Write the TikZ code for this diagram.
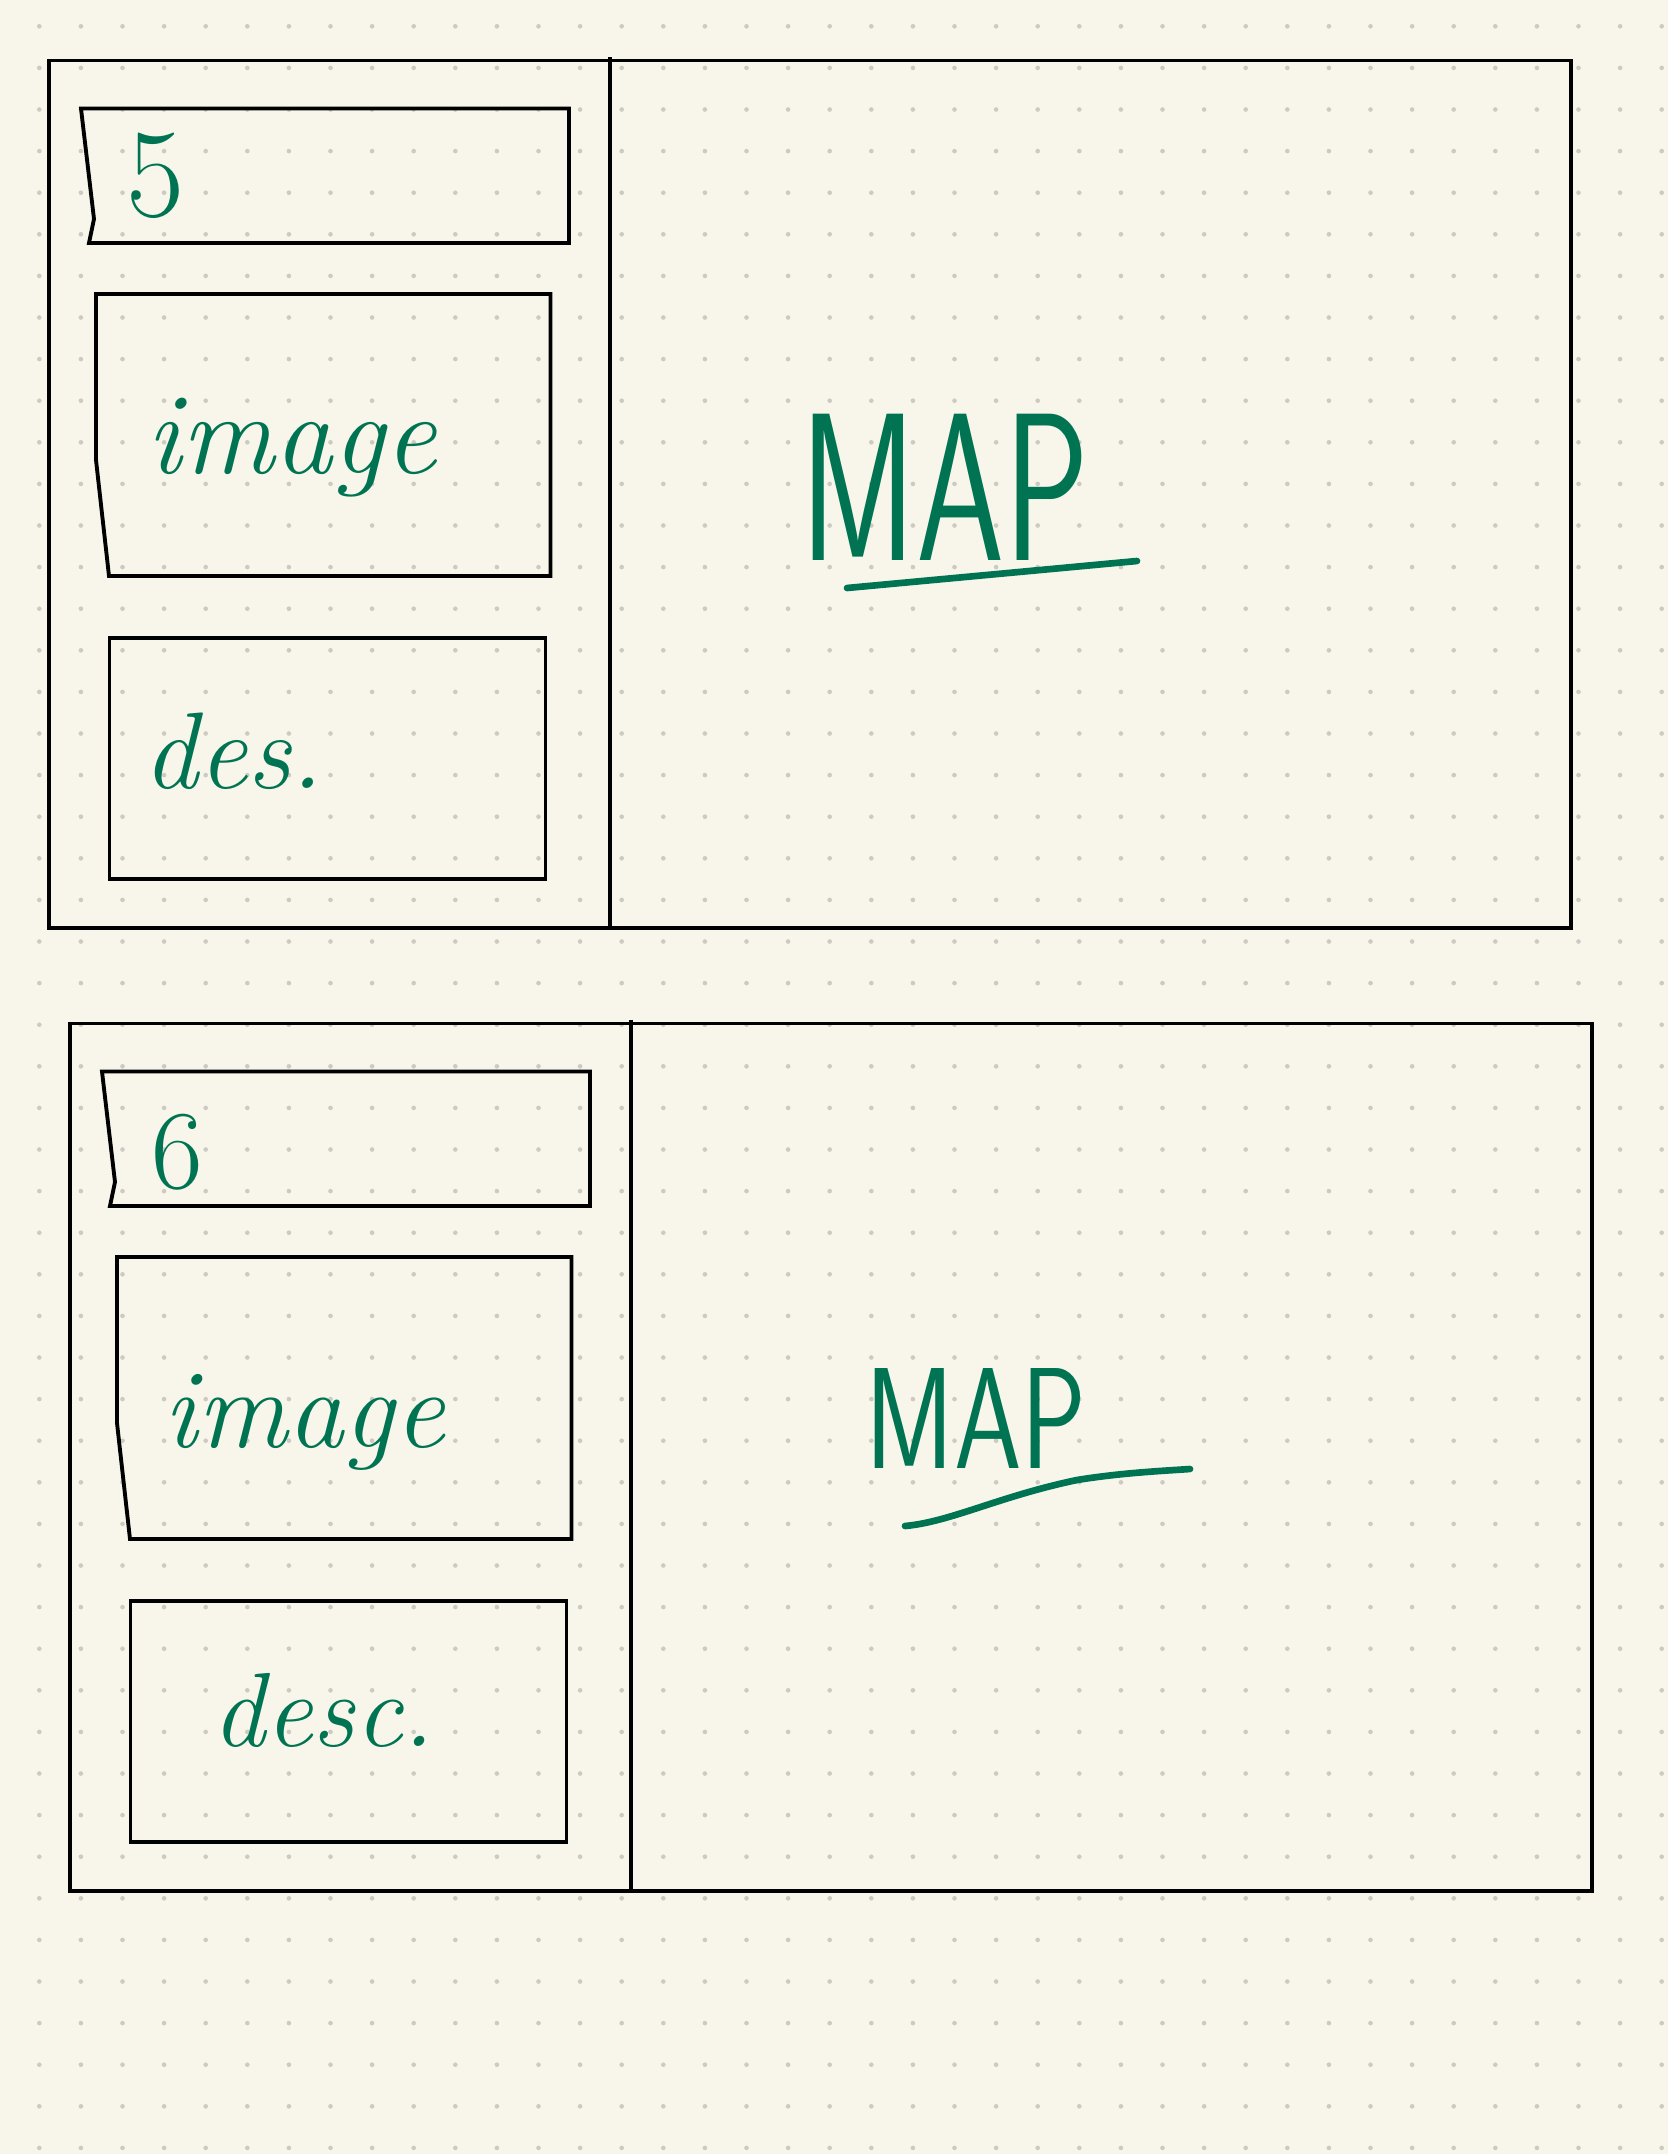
\documentclass[tikz,border=0pt]{standalone}
\usepackage{fontspec}
\usepackage{graphicx}

\definecolor{paper}{RGB}{248,246,234}
\definecolor{ink}{RGB}{0,116,82}
\definecolor{dotgrey}{RGB}{204,202,194}

\tikzset{
  frame/.style={draw=black, line width=1.1pt},
  slot/.style={draw=black, line width=1.1pt},
  hand/.style={text=ink, inner sep=0pt},
  penline/.style={draw=ink, line width=1.9pt, line cap=round},
  griddot/.style={fill=dotgrey}
}

\begin{document}
\begin{tikzpicture}[x=0.1mm,y=-0.1mm]
 \useasboundingbox (0,0) rectangle (1668,2154);
 \fill[paper] (0,0) rectangle (1668,2154);
 % dotted paper
 \foreach \i in {0,...,39}
   \foreach \j in {0,...,51}
     \fill[griddot] ({39.3+41.6*\i},{26.3+41.6*\j}) circle[radius=0.23mm];
 % the two panels, same outline
 \foreach \dx/\dy in {0/0,21/963}{
  \begin{scope}[shift={(\dx,\dy)}]
   \draw[frame] (49,60.5) rectangle (1571,928);
   \draw[frame] (610,57) -- (610,928);
   \draw[slot] (81,108.5) -- (569,108.5) -- (569,243) -- (89,243) -- (94,219) -- cycle;
   \draw[slot] (96,294) -- (550.5,294) -- (550.5,576) -- (109,576) -- (96,460) -- cycle;
   \draw[slot] (109.5,638) rectangle (545.5,879);
  \end{scope}
 }
 % first panel
 \node[hand, font=\fontsize{36}{36}\selectfont] (numA) at (156,176) {5};
 \node[hand, anchor=base west, font=\fontsize{33}{33}\selectfont\itshape] (imageA) at (146,473) {image};
 \node[hand, anchor=base west, font=\fontsize{31}{31}\selectfont\itshape] (descA) at (143,788) {des.};
 \node[hand, anchor=base west, font=\fontsize{60}{60}\selectfont\sffamily] (mapA) at (800,560) {\scalebox{0.67}[1]{MAP}};
 \draw[penline] (847,588) -- (1137,561);
 % second panel
 \node[hand, font=\fontsize{32}{32}\selectfont] (numB) at (177,1152) {6};
 \node[hand, anchor=base west, font=\fontsize{32}{32}\selectfont\itshape] (imageB) at (163,1447) {image};
 \node[hand, anchor=base west, font=\fontsize{30}{30}\selectfont\itshape] (descB) at (212,1746) {desc.};
 \node[hand, anchor=base west, font=\fontsize{41}{41}\selectfont\sffamily] (mapB) at (865,1468) {\scalebox{0.75}[1]{MAP}};
 \draw[penline] (905,1526) .. controls (950,1522) and (1000,1496) .. (1077,1480)
   .. controls (1120,1473) and (1160,1471) .. (1190,1469);
\end{tikzpicture}
\end{document}
